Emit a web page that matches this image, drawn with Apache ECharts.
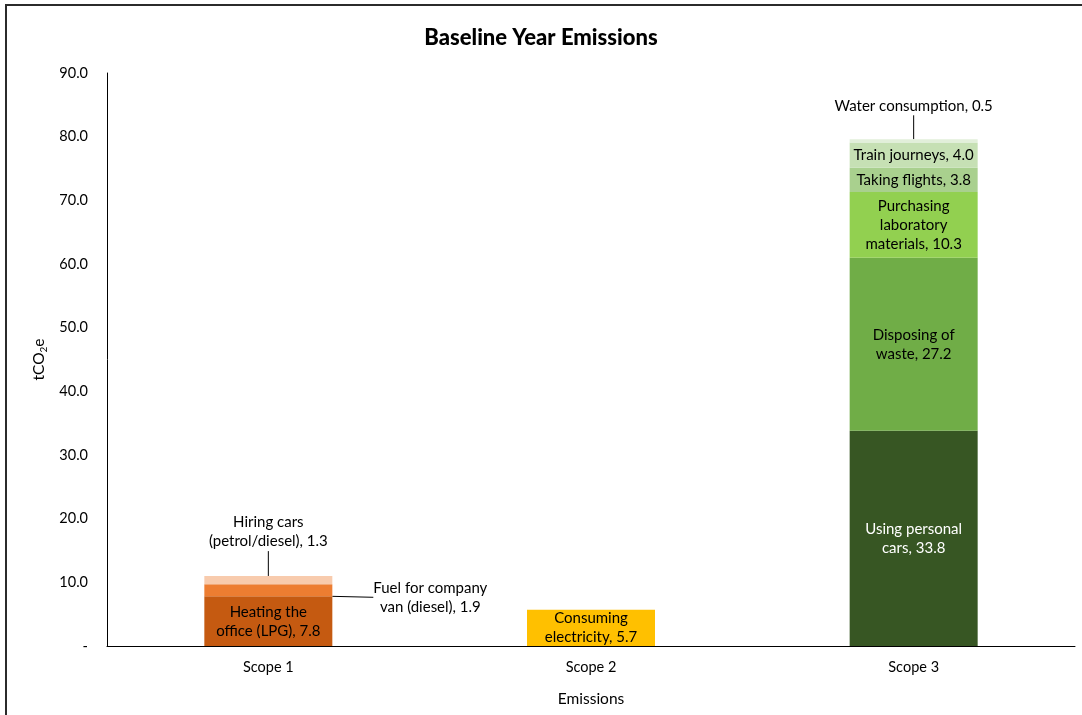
<!DOCTYPE html>
<html>
<head>
<meta charset="utf-8">
<script src="https://cdn.jsdelivr.net/npm/echarts@6/dist/echarts.min.js"></script>
<style>
  body { margin: 0; background: #fff; }
  #chart { position: absolute; left: 0; top: 0; width: 1082px; height: 715px; }
  #frame {
    position: absolute; left: 5px; top: 4px; right: 0; bottom: 0;
    border-top: 2px solid #2b2b2b; border-left: 2px solid #2b2b2b;
    pointer-events: none;
  }
</style>
</head>
<body>
<div id="chart"></div>
<div id="frame"></div>
<script>
// chart data
const categories = ['Scope 1', 'Scope 2', 'Scope 3'];
const segNames = [
  'Heating the\noffice (LPG)',
  'Fuel for company\nvan (diesel)',
  'Hiring cars\n(petrol/diesel)',
  'Consuming\nelectricity',
  'Using personal\ncars',
  'Disposing of\nwaste',
  'Purchasing\nlaboratory\nmaterials',
  'Taking flights',
  'Train journeys',
  'Water consumption'
];
const segValues = [7.8, 1.9, 1.3, 5.7, 33.8, 27.2, 10.3, 3.8, 4.0, 0.5];
const segScope = [0, 0, 0, 1, 2, 2, 2, 2, 2, 2];
const yTicks = [0, 10, 20, 30, 40, 50, 60, 70, 80, 90];

const segColors = ['#C55A11', '#ED7D31', '#F8CBAD', '#FFC000', '#375623',
  '#70AD47', '#92D050', '#A9D08E', '#C6E0B4', '#E2EFDA'];
// labels pulled outside the bar, with a leader line
const outside = {
  1: { dx: 162, dy: 7 },
  2: { dx: 0, dy: -48 },
  9: { dx: 0, dy: -35 }
};

const font = 'Lato, "Open Sans", sans-serif';

const series = segNames.map((name, i) => {
  const s = {
    name: name,
    type: 'bar',
    stack: 'total',
    barWidth: 128,
    data: categories.map((c, k) => (k === segScope[i] ? segValues[i] : null)),
    itemStyle: { color: segColors[i] },
    label: {
      show: true,
      position: 'inside',
      color: i === 4 ? '#fff' : '#000',
      fontFamily: font,
      fontSize: 15,
      lineHeight: 19,
      align: 'center',
      formatter: () => name + ', ' + segValues[i].toFixed(1)
    }
  };
  if (outside[i]) {
    s.labelLayout = { dx: outside[i].dx, dy: outside[i].dy };
    s.labelLine = { show: true, lineStyle: { color: '#000', width: 1 } };
  }
  return s;
});

const chart = echarts.init(document.getElementById('chart'));
chart.setOption({
  animation: false,
  title: {
    text: 'Baseline Year Emissions',
    left: 'center',
    top: 22,
    textStyle: { fontFamily: font, fontWeight: 900, fontSize: 22, color: '#000' }
  },
  grid: { left: 107, right: 7, top: 73, bottom: 69, outerBoundsMode: 'none' },
  xAxis: {
    type: 'category',
    data: categories,
    name: 'Emissions',
    nameLocation: 'middle',
    nameGap: 45,
    nameTextStyle: { fontFamily: font, fontSize: 15.5, color: '#000' },
    axisLine: { lineStyle: { color: '#000', width: 1 } },
    axisTick: { show: false },
    axisLabel: { fontFamily: font, fontSize: 14.5, color: '#000', margin: 14 }
  },
  yAxis: {
    type: 'value',
    min: yTicks[0],
    max: yTicks[yTicks.length - 1],
    interval: 10,
    name: 'tCO{sub|2}e',
    nameLocation: 'middle',
    nameGap: 52,
    nameTextStyle: {
      fontFamily: font, fontSize: 15.5, color: '#000',
      rich: { sub: { fontFamily: font, fontSize: 10, color: '#000', verticalAlign: 'bottom', padding: [9, 0, 0, 0] } }
    },
    axisLine: { show: true, lineStyle: { color: '#000', width: 1 } },
    axisTick: { show: false },
    splitLine: { show: false },
    axisLabel: {
      fontFamily: font, fontSize: 14.5, color: '#000', margin: 19,
      formatter: v => (v === 0 ? '-' : v.toFixed(1))
    }
  },
  series: series
});
</script>
</body>
</html>
